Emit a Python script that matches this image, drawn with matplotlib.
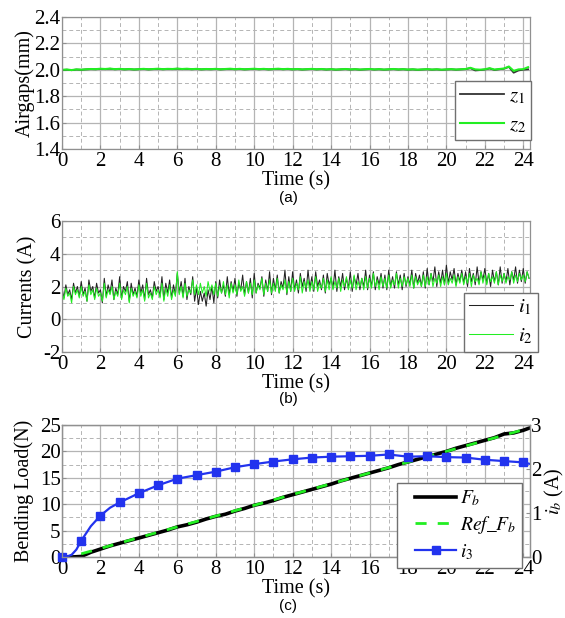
import numpy as np
import matplotlib
matplotlib.use("Agg")
import matplotlib.pyplot as plt
from matplotlib.ticker import MultipleLocator, FormatStrFormatter
from matplotlib.legend_handler import HandlerLine2D

plt.rcParams['font.family'] = ['Liberation Serif', 'DejaVu Serif']
plt.rcParams['mathtext.fontset'] = 'stix'
plt.rcParams['axes.unicode_minus'] = False

# ---------------- data ----------------
# (a) airgaps, sampled every 0.25 s from 0 to 24.25 s
z1 = [1.998,2.001,1.997,2.002,2.000,2.003,2.005,2.004,
      2.007,2.005,2.008,2.004,2.006,2.003,2.005,2.002,
      2.004,2.006,2.003,2.005,2.007,2.004,2.006,2.005,
      2.008,2.005,2.007,2.004,2.006,2.003,2.005,2.004,
      2.006,2.003,2.005,2.007,2.004,2.006,2.003,2.005,
      2.007,2.004,2.006,2.003,2.005,2.007,2.004,2.006,
      2.003,2.005,2.002,2.004,2.006,2.003,2.005,2.002,
      2.004,2.001,2.003,2.005,2.002,2.004,2.001,2.003,
      2.005,2.002,2.004,2.001,2.003,2.005,2.002,2.004,
      2.001,2.003,2.000,2.002,2.004,2.001,2.003,2.000,
      2.002,2.004,2.001,2.003,2.005,2.012,1.995,1.998,
      2.002,2.010,1.999,2.004,2.008,2.022,1.978,1.995,
      2.001,2.004]
z2 = [2.000,2.002,1.998,2.003,2.001,2.004,2.006,2.005,
      2.008,2.006,2.009,2.005,2.007,2.004,2.006,2.003,
      2.005,2.007,2.004,2.006,2.008,2.005,2.007,2.006,
      2.009,2.006,2.008,2.005,2.007,2.004,2.006,2.005,
      2.007,2.004,2.006,2.008,2.005,2.007,2.004,2.006,
      2.008,2.005,2.007,2.004,2.006,2.008,2.005,2.007,
      2.004,2.006,2.003,2.005,2.007,2.004,2.006,2.003,
      2.005,2.002,2.004,2.006,2.003,2.005,2.002,2.004,
      2.006,2.003,2.005,2.002,2.004,2.006,2.003,2.005,
      2.002,2.004,2.001,2.003,2.005,2.002,2.004,2.001,
      2.003,2.005,2.002,2.004,2.006,2.015,2.003,2.001,
      2.004,2.012,2.002,2.006,2.010,2.025,1.992,2.003,
      2.005,2.020]

# (b) currents, sampled every 0.1 s from 0 to 24.3 s
i1 = [1.9,1.3,2.1,1.5,1.8,1.2,2.2,1.6,2.0,1.4,
      2.3,1.5,1.9,1.1,2.4,1.7,2.0,1.3,2.2,1.6,
      1.8,1.0,2.5,1.4,2.1,1.6,2.4,1.2,1.9,1.5,
      2.6,1.3,2.0,1.7,2.3,1.1,2.2,1.5,1.9,1.4,
      2.4,1.6,2.1,1.2,2.5,1.5,1.8,1.3,2.3,1.7,
      2.0,1.4,2.6,1.2,2.2,1.6,2.4,1.3,2.1,1.5,
      2.8,1.6,2.3,1.4,2.5,1.2,2.0,1.5,2.6,1.1,
      1.9,0.9,1.7,1.1,1.6,0.8,1.8,1.2,2.0,1.0,
      2.3,1.3,2.4,1.6,2.1,1.4,2.6,1.5,2.3,1.7,
      2.5,1.4,2.2,1.8,2.7,1.5,2.3,1.6,2.5,1.3,
      2.8,1.6,2.2,1.9,2.6,1.4,2.4,1.7,2.9,1.5,
      2.5,1.8,2.7,1.6,2.3,1.9,3.0,1.5,2.6,1.7,
      2.9,1.8,2.4,1.6,2.8,2.0,2.5,1.7,3.0,1.9,
      2.6,1.7,2.9,2.0,2.4,1.8,2.7,1.6,2.8,2.1,
      2.5,1.9,3.0,1.7,2.6,2.0,2.8,1.8,2.5,1.9,
      2.9,1.7,2.6,2.1,2.8,1.8,2.5,2.0,3.0,1.8,
      2.7,2.0,2.9,1.8,2.6,2.1,2.8,1.9,2.7,1.8,
      3.0,2.0,2.6,1.9,2.9,2.1,2.7,1.8,2.8,2.0,
      2.6,2.1,3.0,1.9,2.8,2.2,2.7,2.0,2.9,1.9,
      3.1,2.1,2.8,2.3,3.2,2.0,2.9,2.2,3.0,2.1,
      3.3,2.2,2.9,2.4,3.1,2.1,2.8,2.3,3.0,2.2,
      2.9,2.0,3.1,2.3,2.8,2.1,3.2,2.2,2.9,2.4,
      3.1,2.2,2.8,2.0,3.0,2.3,2.9,2.1,3.2,2.2,
      2.8,2.3,3.1,2.1,2.9,2.4,3.2,2.2,3.0,2.3,
      3.1,2.2,2.9,2.5]
i2 = [1.7,1.2,1.9,1.4,1.6,1.0,2.0,1.5,1.8,1.3,
      2.0,1.4,1.7,1.1,2.1,1.5,1.8,1.2,1.9,1.4,
      1.6,1.1,2.2,1.3,1.8,1.5,2.0,1.2,1.7,1.4,
      2.2,1.2,1.8,1.5,2.0,1.0,1.9,1.4,1.7,1.3,
      2.1,1.4,1.8,1.1,2.2,1.3,1.6,1.2,2.0,1.5,
      1.8,1.3,2.2,1.1,1.9,1.4,2.1,1.2,1.8,1.4,
      2.9,1.5,2.0,1.3,2.2,1.4,1.8,1.6,2.4,1.5,
      2.1,1.5,2.2,1.6,2.0,1.4,2.3,1.7,2.1,1.5,
      2.2,1.4,2.0,1.6,2.3,1.5,2.1,1.3,2.2,1.6,
      2.1,1.5,2.4,1.7,2.0,1.4,2.3,1.6,2.2,1.5,
      2.4,1.6,2.1,1.8,2.5,1.5,2.2,1.7,2.4,1.6,
      2.2,1.7,2.5,1.6,2.1,1.8,2.4,1.6,2.3,1.7,
      2.5,1.7,2.2,1.8,2.6,1.6,2.3,1.9,2.4,1.7,
      2.3,1.8,2.6,1.7,2.2,1.9,2.5,1.7,2.4,1.8,
      2.6,1.8,2.3,1.9,2.5,1.7,2.4,2.0,2.6,1.8,
      2.4,1.9,2.7,1.8,2.3,2.0,2.5,1.8,2.6,1.9,
      2.5,1.9,2.8,2.0,2.4,1.8,2.6,2.0,2.5,1.9,
      2.7,1.9,2.4,2.1,2.8,1.9,2.5,2.0,2.6,2.1,
      2.5,2.0,2.7,1.9,2.6,2.1,2.4,2.0,2.7,2.0,
      2.6,2.1,2.8,2.0,2.5,2.2,2.7,2.0,2.6,2.1,
      2.8,2.1,2.5,2.2,2.7,2.0,2.6,2.2,2.8,2.1,
      2.6,2.2,2.8,2.0,2.7,2.3,2.5,2.1,2.9,2.2,
      2.7,2.1,2.8,2.3,2.6,2.2,2.9,2.1,2.7,2.3,
      2.8,2.2,2.6,2.4,2.9,2.2,2.7,2.3,2.8,2.4,
      2.7,2.3,2.9,2.5]

# (c) bending load, sampled every 0.5 s from 0 to 24 s, plus 24.3 s
fb = [0.0,0.0,0.1,0.9,1.5,2.1,2.6,3.1,3.6,4.1,4.6,5.1,5.7,6.1,6.6,7.2,7.7,8.1,
      8.7,9.2,9.8,10.2,10.7,11.3,11.8,12.3,12.8,13.3,13.8,14.4,14.9,15.4,15.9,
      16.4,16.9,17.5,18.0,18.5,19.0,19.5,20.0,20.6,21.1,21.6,22.1,22.6,23.3,
      23.5,24.0,24.4]
ref_t = [1.0, 24.3]
ref_fb = [0.6, 24.4]
i3_t = [0,0.25,0.5,0.75,1,1.5,2,2.5,3,4,5,6,7,8,9,10,11,12,13,14,15,16,17,18,
        19,20,21,22,23,24,24.3]
i3 = [0.0,0.01,0.05,0.17,0.37,0.70,0.94,1.12,1.24,1.45,1.63,1.78,1.86,1.94,2.04,
      2.11,2.17,2.22,2.26,2.28,2.29,2.30,2.33,2.28,2.29,2.27,2.26,2.21,2.18,2.15,
      2.12]

t_z = np.arange(len(z1)) * 0.25
t_i = np.arange(len(i1)) * 0.1
t_fb = list(np.arange(0, 24.01, 0.5)) + [24.3]
mark_idx = [k for k, v in enumerate(i3_t) if float(v).is_integer()]

GREEN = '#22ee22'
GRID = '#b4b4b4'
XMAX = 24.35
TICK_FS = 15
LAB_FS = 14.5

fig = plt.figure(figsize=(5.65, 6.18), dpi=100)
L = 62 / 565
W = (530 - 62) / 565


def style(ax, ymin, ymax, ymaj, ymin_step):
    ax.set_xlim(0, XMAX)
    ax.set_ylim(ymin, ymax)
    ax.xaxis.set_major_locator(MultipleLocator(2))
    ax.xaxis.set_minor_locator(MultipleLocator(1))
    ax.yaxis.set_major_locator(MultipleLocator(ymaj))
    ax.yaxis.set_minor_locator(MultipleLocator(ymin_step))
    ax.grid(which='major', color=GRID, lw=0.9, ls='-')
    ax.grid(which='minor', color=GRID, lw=0.7, ls=(0, (4, 3)))
    ax.set_axisbelow(True)
    for s in ax.spines.values():
        s.set_color('#909090')
        s.set_linewidth(0.9)
    ax.tick_params(which='both', direction='in', color='#909090',
                   labelsize=TICK_FS)
    ax.tick_params(axis='y', pad=1)
    ax.tick_params(axis='x', pad=2.5)
    ax.tick_params(which='major', length=3)
    ax.tick_params(which='minor', length=0)
    ax.set_xlabel('Time (s)', fontsize=LAB_FS, labelpad=0)


def leg(ax, x, y, **kw):
    lg = ax.legend(loc='upper left', bbox_to_anchor=(x, y), borderaxespad=0,
                   fancybox=False, framealpha=1, edgecolor='#707070',
                   prop={'size': 15}, **kw)
    lg.get_frame().set_linewidth(1.0)
    return lg


# ---- (a) ----
ax1 = fig.add_axes([L, 1 - 149 / 618, W, 132 / 618])
ax1.plot(t_z, z1, color='#333333', lw=1.3, label='$z_1$')
ax1.plot(t_z, z2, color=GREEN, lw=1.5, label='$z_2$')
style(ax1, 1.4, 2.4, 0.2, 0.1)
ax1.yaxis.set_major_formatter(FormatStrFormatter('%.1f'))
ax1.set_ylabel('Airgaps(mm)', fontsize=LAB_FS, labelpad=0)
leg(ax1, 0.839, 0.513, handlelength=2.1, labelspacing=0.45, handletextpad=0.25,
    borderpad=0.25)
fig.text(0.51, 1 - 198 / 618, '(a)', family='Liberation Sans', fontsize=11,
         ha='center', va='center')

# ---- (b) ----
ax2 = fig.add_axes([L, 1 - 352 / 618, W, 131 / 618])
ax2.plot(t_i, i1, color='#222222', lw=0.75, label='$i_1$')
ax2.plot(t_i, i2, color=GREEN, lw=0.75, label='$i_2$')
style(ax2, -2, 6, 2, 1)
ax2.set_ylabel('Currents (A)', fontsize=LAB_FS, labelpad=4)
leg(ax2, 0.858, 0.453, handlelength=2.1, labelspacing=0.45, handletextpad=0.25,
    borderpad=0.25)
fig.text(0.51, 1 - 399 / 618, '(b)', family='Liberation Sans', fontsize=11,
         ha='center', va='center')

# ---- (c) ----
ax3 = fig.add_axes([L, 1 - 557 / 618, W, 132 / 618])
h1, = ax3.plot(t_fb, fb, color='black', lw=2.6, label='$F_b$')
h2, = ax3.plot(ref_t, ref_fb, color=GREEN, lw=2.0, ls=(0, (4, 4)),
               label='$Ref\\_F_b$')
style(ax3, 0, 25, 5, 2.5)
ax3.set_ylabel('Bending Load(N)', fontsize=LAB_FS, labelpad=4)
ax4 = ax3.twinx()
h3, = ax4.plot(i3_t, i3, color='#2233ee', lw=1.6, marker='s', markersize=5.5,
               markevery=mark_idx, label='$i_3$', clip_on=False)
ax4.set_ylim(0, 3)
ax4.yaxis.set_major_locator(MultipleLocator(1))
ax4.tick_params(direction='in', color='#909090', labelsize=TICK_FS, pad=1,
                length=3)
for s in ax4.spines.values():
    s.set_color('#909090')
    s.set_linewidth(0.9)
ax4.set_ylabel('$i_b$ (A)', fontsize=LAB_FS, labelpad=1)
hm = {h: HandlerLine2D(xpad=0.65) for h in (h1, h2, h3)}
lg = ax4.legend(handles=[h1, h2, h3], loc='upper left',
                bbox_to_anchor=(0.715, 0.562), borderaxespad=0, fancybox=False,
                framealpha=1, edgecolor='#707070', prop={'size': 14},
                handlelength=2.75, labelspacing=0.3, handletextpad=0.2,
                borderpad=0.3, handler_map=hm)
lg.get_frame().set_linewidth(1.0)
fig.text(0.51, 1 - 606 / 618, '(c)', family='Liberation Sans', fontsize=11,
         ha='center', va='center')

fig.savefig('out.png', dpi=100)
